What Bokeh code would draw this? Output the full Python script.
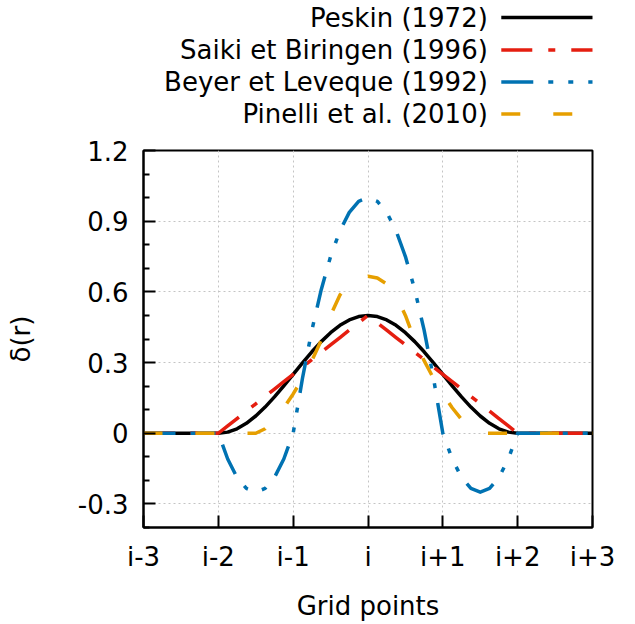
from bokeh.plotting import figure
from bokeh.models import Range1d, FixedTicker
from bokeh.layouts import column
from bokeh.core.properties import value
from bokeh.embed import file_html
from bokeh.resources import INLINE

FONT = "DejaVu Sans"

# r in grid spacings
r = [-3, -2, -1.875, -1.75, -1.625, -1.5, -1.375, -1.25, -1.125, -1,
     -0.875, -0.75, -0.625, -0.5, -0.375, -0.25, -0.125, 0,
     0.125, 0.25, 0.375, 0.5, 0.625, 0.75, 0.875, 1,
     1.125, 1.25, 1.375, 1.5, 1.625, 1.75, 1.875, 2, 3]

peskin = [0, 0, 0.0048, 0.0190, 0.0421, 0.0732, 0.1111, 0.1543, 0.2012, 0.25,
          0.2988, 0.3457, 0.3889, 0.4268, 0.4579, 0.4810, 0.4952, 0.5,
          0.4952, 0.4810, 0.4579, 0.4268, 0.3889, 0.3457, 0.2988, 0.25,
          0.2012, 0.1543, 0.1111, 0.0732, 0.0421, 0.0190, 0.0048, 0, 0]

saiki = [0, 0, 0.0313, 0.0625, 0.0938, 0.125, 0.1563, 0.1875, 0.2188, 0.25,
         0.2813, 0.3125, 0.3438, 0.375, 0.4063, 0.4375, 0.4688, 0.5,
         0.4688, 0.4375, 0.4063, 0.375, 0.3438, 0.3125, 0.2813, 0.25,
         0.2188, 0.1875, 0.1563, 0.125, 0.0938, 0.0625, 0.0313, 0, 0]

beyer = [0, 0, -0.1094, -0.1875, -0.2344, -0.25, -0.2344, -0.1875, -0.1094, 0,
         0.2344, 0.4375, 0.6094, 0.75, 0.8594, 0.9375, 0.9844, 1.0,
         0.9844, 0.9375, 0.8594, 0.75, 0.6094, 0.4375, 0.2344, 0,
         -0.1094, -0.1875, -0.2344, -0.25, -0.2344, -0.1875, -0.1094, 0, 0]

pinelli = [0, 0, 0, 0, 0, 0, 0.0191, 0.0581, 0.1081, 0.1667,
           0.2331, 0.3081, 0.3941, 0.5, 0.5868, 0.6338, 0.6588, 0.6667,
           0.6588, 0.6338, 0.5868, 0.5, 0.3941, 0.3081, 0.2331, 0.1667,
           0.1081, 0.0581, 0.0191, 0, 0, 0, 0, 0, 0]

names = ["Peskin (1972)", "Saiki et Biringen (1996)", "Beyer et Leveque (1992)", "Pinelli et al. (2010)"]
series = [peskin, saiki, beyer, pinelli]
colors = ["black", "#e51e10", "#0072b2", "#e69f00"]
dashes = ["solid", "31 16 7 16", "32 15 5 15 5 15", "19 33"]

x_ticks = [-3, -2, -1, 0, 1, 2, 3]
x_labels = ["i-3", "i-2", "i-1", "i", "i+1", "i+2", "i+3"]
y_ticks = [-0.3, 0, 0.3, 0.6, 0.9, 1.2]
y_labels = ["-0.3", "0", "0.3", "0.6", "0.9", "1.2"]
y_minor = [-0.4, -0.2, -0.1, 0.1, 0.2, 0.4, 0.5, 0.7, 0.8, 1.0, 1.1]

LW = 3.5
FS = "26px"

# ---- legend panel (labels left, samples right) ----
top = figure(width=635, height=130, x_range=Range1d(0, 635), y_range=Range1d(130, 0),
             x_axis_type=None, y_axis_type=None, toolbar_location=None,
             output_backend="svg", min_border=0, outline_line_color=None)
row_y = [17, 49.5, 81.5, 113.5]
top.text(x=[487] * 4, y=row_y, text=names, text_align="right", text_baseline="middle",
         text_font=value(FONT), text_font_size=FS, text_color="black")
for yy, c, d in zip(row_y, colors, dashes):
    top.line([506, 640], [yy, yy], line_color=c, line_dash=d, line_width=LW)

# ---- main plot ----
p = figure(frame_width=449, frame_height=377, x_range=Range1d(-3, 3), y_range=Range1d(-0.4, 1.2),
           toolbar_location=None, output_backend="svg",
           min_border_left=143, min_border_right=43, min_border_top=20, min_border_bottom=97)

for s, c, d in zip(series, colors, dashes):
    p.line(r, s, line_color=c, line_dash=d, line_width=LW, line_join="round")

p.xaxis.ticker = FixedTicker(ticks=x_ticks)
p.xaxis.major_label_overrides = {t: l for t, l in zip(x_ticks, x_labels)}
p.yaxis.ticker = FixedTicker(ticks=y_ticks, minor_ticks=y_minor)
p.yaxis.major_label_overrides = {t: l for t, l in zip(y_ticks, y_labels)}

p.xaxis.axis_label = "Grid points"
p.yaxis.axis_label = "δ(r)"

for ax in (p.xaxis, p.yaxis):
    ax.axis_line_width = 2
    ax.axis_line_color = "black"
    ax.major_tick_in = 12
    ax.major_tick_out = 0
    ax.minor_tick_in = 6
    ax.minor_tick_out = 0
    ax.major_tick_line_width = 2
    ax.minor_tick_line_width = 2
    ax.major_tick_line_color = "black"
    ax.minor_tick_line_color = "black"
    ax.major_label_text_font = FONT
    ax.major_label_text_font_size = FS
    ax.major_label_text_color = "black"
    ax.axis_label_text_font = FONT
    ax.axis_label_text_font_size = FS
    ax.axis_label_text_font_style = "normal"
    ax.axis_label_text_color = "black"

p.xaxis.major_label_standoff = 14
p.yaxis.major_label_standoff = 15
p.xaxis.axis_label_standoff = 16
p.yaxis.axis_label_standoff = 39

p.grid.grid_line_color = "#c4c4c4"
p.grid.grid_line_dash = "2 3"
p.grid.grid_line_width = 1

p.outline_line_color = "black"
p.outline_line_width = 2
p.outline_line_alpha = 1

layout = column(top, p, spacing=0)
open("out.html", "w").write(file_html(layout, INLINE))
